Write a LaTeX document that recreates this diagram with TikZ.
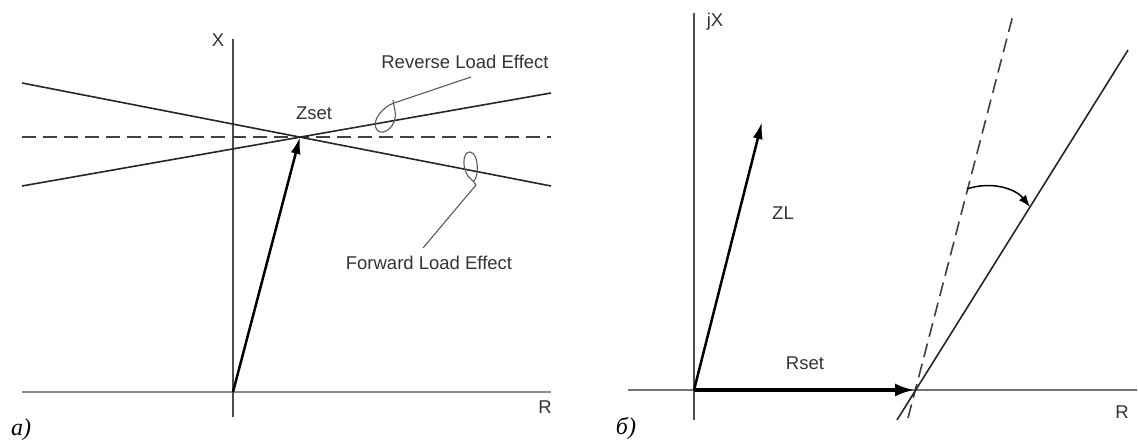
\documentclass[tikz,border=0pt]{standalone}
\usepackage{fontspec}
\setmainfont{Liberation Sans}
\newfontfamily\tnr{Liberation Serif}
\usetikzlibrary{arrows.meta}
\begin{document}
\begin{tikzpicture}[x=1pt,y=-1pt,
  lbl/.style={text=black!80, font=\fontsize{18.5}{20}\selectfont, inner sep=0pt},
  panel/.style={text=black, font=\tnr\itshape\fontsize{24}{25}\selectfont, inner sep=0pt},
  plainline/.style={draw=black!85, line width=1.6pt},
  dashline/.style={draw=black!75, line width=1.6pt, dash pattern=on 14pt off 7pt},
  axisdark/.style={draw=black!70, line width=1.3pt},
  axisgray/.style={draw=black!45, line width=2.8pt},
  axisgrayr/.style={draw=black!55, line width=1.6pt},
  leader/.style={draw=black!65, line width=1.1pt},
  vec/.style={draw=black, line width=2.5pt, -{Latex[length=17pt,width=10pt]}},
  vecbold/.style={draw=black, line width=4pt, -{Latex[length=20pt,width=13pt]}},
]
\useasboundingbox (0,0) rectangle (1138,444);

% ---------- panel a ----------
\coordinate (O1) at (233,392);
\coordinate (Zs) at (300,137);
\coordinate (Xtop) at (233,39);
\coordinate (Xbot) at (233,417);
\coordinate (Rl) at (22,392);
\coordinate (Rr) at (551,392);
\coordinate (Dl) at (22,137);
\coordinate (Dr) at (551,137);
\coordinate (L1a) at (22,83);
\coordinate (L1b) at (551,186);
\coordinate (L2a) at (22,186);
\coordinate (L2b) at (551,93);

\path[axisgray] (Rl) -- (Rr);
\path[axisdark] (Xtop) -- (Xbot);
\path[dashline] (Dl) -- (Dr);
\path[plainline] (L1a) -- (L1b);
\path[plainline] (L2a) -- (L2b);
\path[vec] (O1) -- (Zs);

\node[lbl] (lX) at (218,40) {X};
\node[lbl] (lR1) at (545,407) {R};
\node[lbl] (lZset) at (314,113) {Zset};
\node[lbl] (lRev) at (465,62) {Reverse Load Effect};
\node[lbl] (lFwd) at (429,263) {Forward Load Effect};

% reverse loop + leader
\coordinate (revA) at (471,77);
\coordinate (revB) at (394,103);
\path[leader] (revA) -- (revB);
\path[leader] (revB) .. controls (384,106) and (370,121) .. (377,130)
   .. controls (383,137) and (398,126) .. (395,111) -- (393,100);
% forward loop + leader
\coordinate (fwdA) at (423,248);
\coordinate (fwdB) at (476,185);
\path[leader] (fwdA) -- (fwdB);
\path[leader] (fwdB) -- (472,180) .. controls (461,173) and (462,151) .. (470,152)
   .. controls (479,153) and (479,176) .. (474,181);

\node[panel] (pa) at (21,430) {а)};

% ---------- panel b ----------
\coordinate (O2) at (694,390);
\coordinate (Ytop) at (694,13);
\coordinate (Ybot) at (694,420);
\coordinate (Hl) at (628,390);
\coordinate (Hr) at (1137,390);
\coordinate (ZLtip) at (762,122);
\coordinate (Rtip) at (915,390);
\coordinate (Sa) at (897,420);
\coordinate (Sb) at (1128,50);
\coordinate (Da) at (908,418);
\coordinate (Db) at (1013,15);

\path[axisgrayr] (Hl) -- (Hr);
\path[axisdark] (Ytop) -- (Ybot);
\path[dashline] (Da) -- (Db);
\path[plainline] (Sa) -- (Sb);
\path[vec] (O2) -- (ZLtip);
\path[vecbold] (O2) -- (Rtip);

\coordinate (arcA) at (967,189);
\coordinate (arcB) at (1030,207);
\path[draw=black, line width=1.5pt, -{Latex[length=12pt,width=9pt]}]
  (arcA) .. controls (990,181) and (1015,188) .. (arcB);

\node[lbl] (ljX) at (715,22) {jX};
\node[lbl] (lZL) at (783,213) {ZL};
\node[lbl] (lRset) at (805,363) {Rset};
\node[lbl] (lR2) at (1122,412) {R};

\node[panel] (pb) at (626,428) {б)};
\end{tikzpicture}
\end{document}
